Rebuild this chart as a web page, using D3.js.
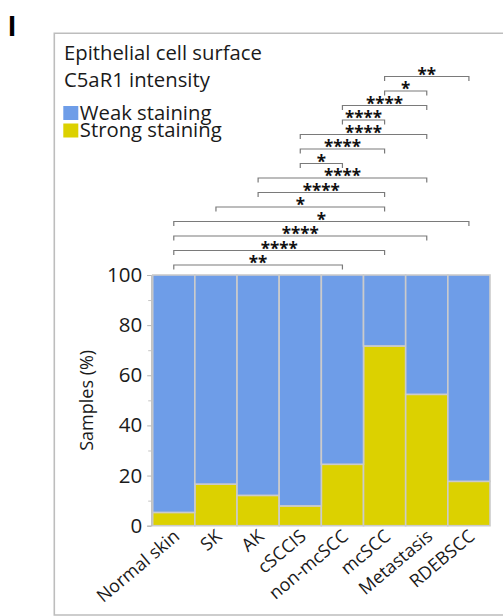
<!DOCTYPE html>
<html>
<head>
<meta charset="utf-8">
<script src="https://cdn.jsdelivr.net/npm/d3@7/dist/d3.min.js"></script>
<style>
  html, body { margin: 0; padding: 0; background: #fff; }
  svg { display: block; font-family: "Open Sans", "Noto Sans", sans-serif; }
</style>
</head>
<body>
<svg id="chart" width="503" height="616"></svg>
<script>
// Sample groups along the x axis
const categories = ["Normal skin", "SK", "AK", "cSCCIS", "non-mcSCC", "mcSCC", "Metastasis", "RDEBSCC"];
// Percentage of samples with strong C5aR1 staining per group
const strongStaining = [5.3, 16.6, 12.1, 7.9, 24.5, 71.7, 52.4, 17.7];
// Remaining share is weak staining
const weakStaining = strongStaining.map(v => 100 - v);
const yTicks = [0, 20, 40, 60, 80, 100];
const yMinorTicks = [10, 30, 50, 70, 90];
const seriesNames = ["Strong staining", "Weak staining"];
// Pairwise significance brackets, listed from lowest to highest
const comparisons = [
  ["Normal skin", "non-mcSCC", "**"],
  ["Normal skin", "mcSCC", "****"],
  ["Normal skin", "Metastasis", "****"],
  ["Normal skin", "RDEBSCC", "*"],
  ["SK", "mcSCC", "*"],
  ["AK", "mcSCC", "****"],
  ["AK", "Metastasis", "****"],
  ["cSCCIS", "non-mcSCC", "*"],
  ["cSCCIS", "mcSCC", "****"],
  ["cSCCIS", "Metastasis", "****"],
  ["non-mcSCC", "mcSCC", "****"],
  ["non-mcSCC", "Metastasis", "****"],
  ["mcSCC", "Metastasis", "*"],
  ["mcSCC", "RDEBSCC", "**"]
];

const colors = { "Strong staining": "#dcd100", "Weak staining": "#6e9de8" };

const svg = d3.select("#chart");
const margin = { top: 275, left: 152.7, right: 13, bottom: 90.3 };
const W = 503, H = 616;

const table = categories.map((c, i) => ({
  group: c,
  "Strong staining": strongStaining[i],
  "Weak staining": weakStaining[i]
}));

const x = d3.scaleBand().domain(categories)
  .range([margin.left, W - margin.right]).padding(0);
const y = d3.scaleLinear().domain([0, 100])
  .range([H - margin.bottom, margin.top]);

// Panel frame
svg.append("path")
  .attr("d", `M${W + 2},33.3 H54.3 V615 H${W + 2}`)
  .attr("fill", "none").attr("stroke", "#bdbdbd").attr("stroke-width", 1.6);

// Panel letter
svg.append("text").attr("x", 8).attr("y", 36)
  .attr("font-family", "Liberation Sans, Arial, sans-serif")
  .attr("font-weight", "bold").attr("font-size", 29).attr("fill", "#000")
  .text("I");

// Title
const title = svg.append("text").attr("font-size", 20.3).attr("fill", "#1a1a1a");
title.append("tspan").attr("x", 64).attr("y", 60).text("Epithelial cell surface");
title.append("tspan").attr("x", 64).attr("y", 87).text("C5aR1 intensity");

// Legend
const legendOrder = ["Weak staining", "Strong staining"];
const lg = svg.append("g").selectAll("g").data(legendOrder).join("g")
  .attr("transform", (d, i) => `translate(63.3,${106 + i * 17.5})`);
lg.append("rect").attr("width", 15).attr("height", 14).attr("fill", d => colors[d]);
lg.append("text").attr("x", 16.5).attr("y", 13.5).attr("font-size", 20.3)
  .attr("fill", "#1a1a1a").text(d => d);

// Stacked bars
const stack = d3.stack().keys(seriesNames)(table);
svg.append("g").selectAll("g").data(stack).join("g")
  .attr("fill", d => colors[d.key])
  .selectAll("rect").data(d => d).join("rect")
  .attr("x", d => x(d.data.group))
  .attr("width", x.bandwidth())
  .attr("y", d => y(d[1]))
  .attr("height", d => y(d[0]) - y(d[1]))
  .attr("stroke", "#cbcbcb").attr("stroke-width", 1.6);

// Y axis with major and minor ticks
const yAxis = svg.append("g").attr("transform", `translate(${margin.left - 1.5},0)`)
  .call(d3.axisLeft(y).tickValues(yTicks).tickSize(4).tickPadding(5));
yAxis.select(".domain").attr("stroke", "#b5b5b5");
yAxis.selectAll(".tick line").attr("stroke", "#b5b5b5");
yAxis.selectAll(".tick text").attr("font-size", 20.5).attr("fill", "#1a1a1a")
  .attr("font-family", "Open Sans, sans-serif");
const yMinor = svg.append("g").attr("transform", `translate(${margin.left - 1.5},0)`)
  .call(d3.axisLeft(y).tickValues(yMinorTicks).tickSize(3).tickFormat(""));
yMinor.select(".domain").remove();
yMinor.selectAll(".tick line").attr("stroke", "#c4c4c4");

// Y axis title
svg.append("text")
  .attr("transform", `translate(93,${(y(0) + y(100)) / 2}) rotate(-90)`)
  .attr("text-anchor", "middle").attr("font-size", 18).attr("fill", "#1a1a1a")
  .text("Samples (%)");

// X labels, rotated
svg.append("g").selectAll("text").data(categories).join("text")
  .attr("transform", d => `translate(${x(d) + x.bandwidth() / 2 + 7},${y(0) + 12.5}) rotate(-40)`)
  .attr("text-anchor", "end").attr("font-size", 18).attr("fill", "#1a1a1a")
  .text(d => d);

// Significance brackets
const level = d3.scaleLinear().domain([0, comparisons.length - 1]).range([265, 76.5]);
const cx = c => x(c) + x.bandwidth() / 2;
const br = svg.append("g").selectAll("g").data(comparisons).join("g");
br.append("path")
  .attr("d", (d, i) => {
    const yy = level(i), x1 = cx(d[0]), x2 = cx(d[1]);
    return `M${x1},${yy + 4.5} V${yy} H${x2} V${yy + 4.5}`;
  })
  .attr("fill", "none").attr("stroke", "#7a7a7a").attr("stroke-width", 1.2);
br.append("text")
  .attr("x", d => (cx(d[0]) + cx(d[1])) / 2)
  .attr("y", (d, i) => level(i) + 4)
  .attr("text-anchor", "middle").attr("font-size", 17).attr("font-weight", "bold")
  .attr("fill", "#111").text(d => d[2]);
</script>
</body>
</html>
